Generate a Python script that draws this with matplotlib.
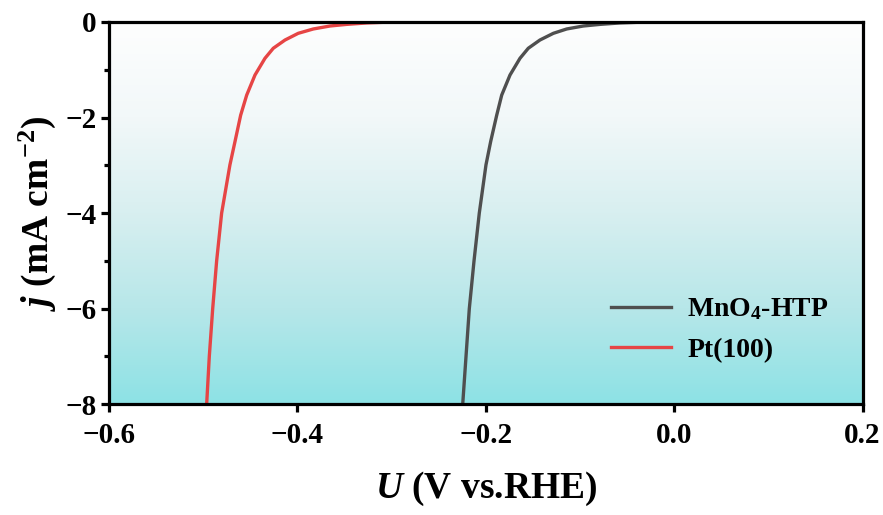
import numpy as np
import matplotlib
matplotlib.use('Agg')
import matplotlib.pyplot as plt
from matplotlib.colors import LinearSegmentedColormap
from matplotlib.ticker import MultipleLocator, FuncFormatter

# LSV curves (U in V vs RHE, j in mA cm^-2)
pt_u = [-0.4962, -0.4934, -0.4898, -0.4856, -0.4803, -0.4715, -0.4661, -0.4601,
        -0.4537, -0.4449, -0.4343, -0.4255, -0.413, -0.399, -0.383, -0.3653,
        -0.3476, -0.3263, -0.30]
pt_j = [-8.0, -7.0, -6.0, -5.0, -4.0, -2.99, -2.50, -1.95,
        -1.53, -1.11, -0.76, -0.55, -0.377, -0.237, -0.146, -0.084,
        -0.05, -0.02, 0.0]

mno_u = [-0.2244, -0.2209, -0.2174, -0.2124, -0.2068, -0.1997, -0.1947, -0.1883,
         -0.183, -0.1742, -0.1636, -0.1548, -0.1424, -0.1282, -0.114, -0.0964,
         -0.0787, -0.0574, -0.03, 0.2]
mno_j = [-8.0, -7.0, -6.0, -5.0, -4.0, -2.99, -2.50, -1.95,
         -1.53, -1.11, -0.76, -0.55, -0.377, -0.237, -0.146, -0.084,
         -0.05, -0.02, 0.0, 0.0]

labels = ['MnO$_4$-HTP', 'Pt(100)']
colors = ['#4f4f4f', '#e64545']

plt.rcParams['font.family'] = ['Liberation Serif', 'DejaVu Serif']
plt.rcParams['font.weight'] = 'bold'
plt.rcParams['axes.labelweight'] = 'bold'
plt.rcParams['mathtext.fontset'] = 'custom'
plt.rcParams['mathtext.rm'] = 'Liberation Serif:bold'
plt.rcParams['mathtext.bf'] = 'Liberation Serif:bold'
plt.rcParams['mathtext.it'] = 'Liberation Serif:italic:bold'

fig = plt.figure(figsize=(8.83, 5.15), dpi=100)
ax = fig.add_axes([0.1233, 0.215, 0.8535, 0.7423])

# background gradient (cyan at bottom -> white at top)
cmap = LinearSegmentedColormap.from_list(
    'bg', [(0, '#8de2e5'), (0.25, '#b7e7e9'), (0.5, '#d8eff0'),
           (0.75, '#f2f8f9'), (1, '#fefefe')])
grad = np.linspace(0, 1, 256).reshape(-1, 1)
ax.imshow(grad, aspect='auto', cmap=cmap, origin='lower',
          extent=[0, 1, 0, 1], transform=ax.transAxes, zorder=0)

ax.plot(mno_u, mno_j, color=colors[0], lw=2.4, label=labels[0], zorder=3,
        solid_joinstyle='round')
ax.plot(pt_u, pt_j, color=colors[1], lw=2.4, label=labels[1], zorder=3,
        solid_joinstyle='round')

ax.set_xlim(-0.6, 0.2)
ax.set_ylim(-8, 0)
ax.xaxis.set_major_locator(MultipleLocator(0.2))
ax.yaxis.set_major_locator(MultipleLocator(2))
ax.yaxis.set_minor_locator(MultipleLocator(1))
ax.xaxis.set_major_formatter(FuncFormatter(
    lambda v, p: ('\u2212' if v < -1e-9 else '') + f'{abs(v):.1f}'))
ax.yaxis.set_major_formatter(FuncFormatter(
    lambda v, p: ('\u2212' if v < -1e-9 else '') + f'{abs(v):.0f}'))

for s in ax.spines.values():
    s.set_linewidth(2.3)
    s.set_zorder(5)
ax.tick_params(axis='both', which='major', direction='out', length=6, width=2.3,
               labelsize=21)
ax.tick_params(axis='x', which='major', pad=7)
ax.tick_params(axis='y', which='major', pad=3)
ax.tick_params(axis='y', which='minor', direction='out', length=3.5, width=2.3)

ax.set_xlabel('$\\it{U}$ (V vs.RHE)', fontsize=27, labelpad=15)
ax.set_ylabel('$\\it{j}$ (mA cm$^{\\rm{-2}}$)', fontsize=27, labelpad=5)

ax.legend(loc='center left', bbox_to_anchor=(0.633, 0.195), frameon=False,
          fontsize=20, handlelength=2.15, handletextpad=0.6, labelspacing=0.55)

fig.savefig('out.png', dpi=100)
